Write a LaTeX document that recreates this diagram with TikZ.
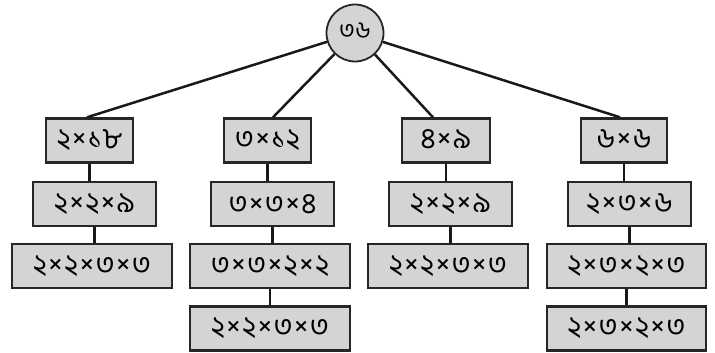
\documentclass[tikz,border=0pt]{standalone}
\usepackage{fontspec}
\newfontfamily\bn[Script=Bengali]{Hind Siliguri}
\definecolor{boxgray}{RGB}{211,212,214}
\newcommand{\tm}{\hspace{1.5pt}×\hspace{1.5pt}}
\tikzset{
  fbox/.style={draw=black!85, fill=boxgray, line width=2.4pt, minimum height=44pt, inner sep=0pt, font=\bn\fontsize{29}{32}\selectfont},
  conn/.style={draw=black!90, line width=2.5pt},
}
\begin{document}
\begin{tikzpicture}[x=1pt,y=-1pt]
\useasboundingbox (0,0) rectangle (715,353);
\node[draw=black!85, fill=boxgray, line width=1.8pt, circle, minimum size=57pt, inner sep=0pt, font=\bn\fontsize{24}{26}\selectfont] (root) at (355,33) {\raisebox{4pt}{৩৬}};
% row 1
\node[fbox, minimum width=87pt] (b1) at (89.5,140.5) {\raisebox{2pt}{২\tm১৮}};
\node[fbox, minimum width=87pt] (b2) at (267.5,140.5) {\raisebox{2pt}{৩\tm১২}};
\node[fbox, minimum width=88pt] (b3) at (446,140.5) {\raisebox{2pt}{৪\tm৯}};
\node[fbox, minimum width=86pt] (b4) at (624,140.5) {\raisebox{2pt}{৬\tm৬}};
% row 2
\node[fbox, minimum width=123pt] (b1b) at (94.5,204) {২\tm২\tm৯};
\node[fbox, minimum width=123pt] (b2b) at (272.5,204) {৩\tm৩\tm৪};
\node[fbox, minimum width=123pt] (b3b) at (450.5,204) {২\tm২\tm৯};
\node[fbox, minimum width=123pt] (b4b) at (629.5,204) {২\tm৩\tm৬};
% row 3
\node[fbox, minimum width=160pt] (b1c) at (92,266) {২\tm২\tm৩\tm৩};
\node[fbox, minimum width=160pt] (b2c) at (270,266) {৩\tm৩\tm২\tm২};
\node[fbox, minimum width=160pt] (b3c) at (448,266) {২\tm২\tm৩\tm৩};
\node[fbox, minimum width=159pt] (b4c) at (626.5,266) {২\tm৩\tm২\tm৩};
% row 4
\node[fbox, minimum width=160pt] (b2d) at (270,328.5) {২\tm২\tm৩\tm৩};
\node[fbox, minimum width=159pt] (b4d) at (626.5,328.5) {২\tm৩\tm২\tm৩};
% root connectors
\coordinate (t1) at ([xshift=-2.5pt]b1.north);
\coordinate (t2) at ([xshift=5.5pt]b2.north);
\coordinate (t3) at ([xshift=-13pt]b3.north);
\coordinate (t4) at ([xshift=-4pt]b4.north);
\draw[conn] (root) -- (t1);
\draw[conn] (root) -- (t2);
\draw[conn] (root) -- (t3);
\draw[conn] (root) -- (t4);
% vertical connectors
\foreach \u/\l in {b1/b1b, b1b/b1c, b2/b2b, b2b/b2c, b2c/b2d, b3/b3b, b3b/b3c, b4/b4b, b4b/b4c, b4c/b4d}{
  \draw[conn] (\u.south) -- (\u.south |- \l.north);
}
\end{tikzpicture}
\end{document}
